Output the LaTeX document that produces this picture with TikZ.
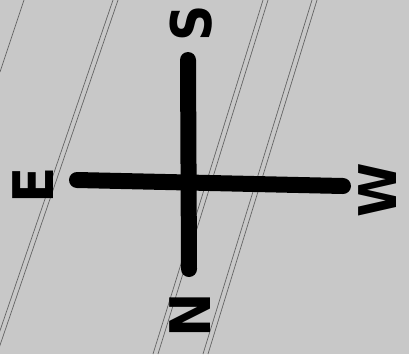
\documentclass[tikz,border=0pt]{standalone}
\usepackage{fontspec}
\setmainfont{DejaVu Sans}
\definecolor{paper}{RGB}{200,200,200}
\definecolor{pencil}{RGB}{100,100,100}
\begin{document}
\begin{tikzpicture}[x=1pt,y=-1pt,
  stroke/.style={line width=16pt,line cap=round,black},
  faint/.style={pencil,line width=0.7pt},
  letter/.style={font=\bfseries\fontsize{56}{56}\selectfont,rotate=90,inner sep=0pt,text=black}]
\fill[paper] (0,0) rectangle (409,354);
\useasboundingbox (0,0) rectangle (409,354);
% faint diagonal paper lines
\draw[faint] (24,0) -- (0,72);
\draw[faint] (113,0) -- (-8,354);
\draw[faint] (118,0) -- (-3,354);
\draw[faint] (263,0) -- (153,354);
\draw[faint] (268,0) -- (158,354);
\draw[faint] (312,0) -- (203,354);
\draw[faint] (317,0) -- (208,354);
% cross
\coordinate (top) at (188,60);
\coordinate (bottom) at (189,269);
\coordinate (left) at (77,180);
\coordinate (right) at (343,186);
\draw[stroke] (top) -- (bottom);
\draw[stroke] (left) -- (right);
% letters
\node[letter] (S) at (191,23) {\scalebox{0.9}[1]{S}};
\node[letter] (E) at (33,185) {\scalebox{0.95}[1]{E}};
\node[letter,font=\bfseries\fontsize{52}{52}\selectfont] (W) at (378,190) {\scalebox{0.95}[1]{W}};
\node[letter] (N) at (190,315) {\scalebox{0.95}[1]{N}};
\end{tikzpicture}
\end{document}
